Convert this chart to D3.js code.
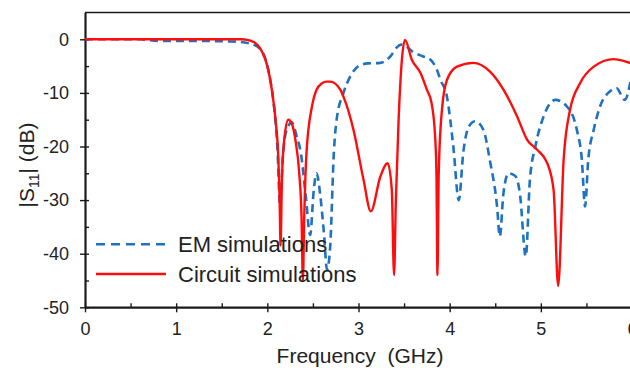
<!DOCTYPE html>
<html>
<head>
<meta charset="utf-8">
<script src="https://cdn.jsdelivr.net/npm/d3@7"></script>
<style>
  html, body { margin: 0; padding: 0; background: #fff; }
  svg { display: block; font-family: "Liberation Sans", Arial, sans-serif; }
</style>
</head>
<body>
<svg id="chart" width="630" height="372"></svg>
<script>
// ---- data ----
const xTicks = [0, 1, 2, 3, 4, 5, 6];
const xMinorTicks = [0.5, 1.5, 2.5, 3.5, 4.5, 5.5];
const yTicks = [0, -10, -20, -30, -40, -50];
const yMinorTicks = [-5, -15, -25, -35, -45];
const seriesNames = ["EM simulations", "Circuit simulations"];

const emFreq = [0, 0.6, 0.8, 1.2, 1.6, 1.75, 1.85, 1.92, 1.97, 2.02, 2.07, 2.11, 2.14, 2.17, 2.21, 2.27, 2.32, 2.37, 2.42, 2.47, 2.51, 2.54, 2.58, 2.62, 2.655, 2.69, 2.73, 2.76, 2.835, 2.91, 3.0, 3.1, 3.24, 3.35, 3.42, 3.47, 3.52, 3.6, 3.71, 3.79, 3.86, 3.9, 3.97, 4.04, 4.10, 4.15, 4.21, 4.28, 4.37, 4.44, 4.52, 4.55, 4.59, 4.645, 4.72, 4.77, 4.835, 4.88, 4.94, 5.03, 5.16, 5.285, 5.395, 5.45, 5.485, 5.52, 5.58, 5.65, 5.76, 5.83, 5.92, 6.0];
const emDb = [0, 0, -0.3, -0.3, -0.4, -0.6, -1.0, -1.8, -3.2, -6.5, -12, -20, -31, -22, -17, -15.5, -18, -21.5, -29, -36.5, -28, -25, -29, -36, -43, -38.5, -21, -15, -10, -6.9, -5, -4.5, -4.4, -3.2, -1.5, -1.0, -1.3, -2.4, -3.2, -3.8, -5.7, -7.6, -10.7, -20, -30, -21, -16.3, -15.3, -16.9, -22.5, -31.2, -36.8, -28.7, -25, -25.5, -28.7, -40.5, -26.2, -20, -14.4, -11.3, -12.5, -16.9, -22.5, -31.2, -22.5, -16.9, -12.5, -9.7, -9.1, -11.3, -6.3];

const circuitFreq = [0, 0.5, 1.0, 1.5, 1.72, 1.78, 1.85, 1.9, 1.95, 2.0, 2.05, 2.09, 2.12, 2.135, 2.145, 2.16, 2.19, 2.23, 2.27, 2.31, 2.35, 2.375, 2.39, 2.405, 2.43, 2.49, 2.54, 2.6, 2.65, 2.69, 2.8, 2.835, 2.945, 3.055, 3.135, 3.24, 3.32, 3.365, 3.39, 3.41, 3.44, 3.475, 3.51, 3.585, 3.68, 3.75, 3.8, 3.84, 3.855, 3.866, 3.88, 3.915, 3.97, 4.08, 4.26, 4.44, 4.59, 4.74, 4.85, 4.96, 5.07, 5.14, 5.19, 5.25, 5.32, 5.43, 5.58, 5.8, 5.98, 6.0];
const circuitDb = [0, 0, 0, 0, 0, -0.1, -0.5, -1.2, -2.6, -5, -9.5, -15, -22, -30, -38.5, -26, -18, -15, -15.8, -19, -25, -33, -45, -33, -21, -12.5, -9.4, -8.2, -7.9, -7.9, -9.4, -10.7, -16.9, -26.2, -32.1, -25.6, -23.1, -28, -44, -30, -15, -4, -0.1, -3.8, -6.3, -9.4, -11.8, -18, -25, -44, -25, -13.2, -7.6, -5.1, -4.4, -6.0, -9.4, -14.4, -18.75, -20.6, -23.1, -28.1, -46, -22.5, -13.2, -8.2, -5.1, -3.7, -4.4, -4.5];

// ---- layout ----
const svg = d3.select("#chart");
const W = 630, H = 372;
const plotLeft = 85, plotRight = 632, plotTop = 12.5, plotBottom = 307.3;

const x = d3.scaleLinear().domain([0, 6]).range([plotLeft, plotRight]);
const y = d3.scaleLinear().domain([-50, 5]).range([plotBottom, plotTop]);

svg.append("rect").attr("width", W).attr("height", H).attr("fill", "#fff");

svg.append("defs").append("clipPath").attr("id", "plot-clip")
  .append("rect").attr("x", plotLeft).attr("y", plotTop)
  .attr("width", plotRight - plotLeft).attr("height", plotBottom - plotTop);

const axisColor = "#1a1a1a";
const fontSize = 18;
const fmt = d => String(d);

// frame top line
svg.append("line").attr("x1", plotLeft).attr("x2", plotRight).attr("y1", plotTop).attr("y2", plotTop)
  .attr("stroke", axisColor).attr("stroke-width", 1.5);

// x axis: outer ticks + labels
const gx = svg.append("g").attr("transform", `translate(0,${plotBottom})`)
  .call(d3.axisBottom(x).tickValues(xTicks).tickFormat(fmt).tickSize(5).tickPadding(10));
svg.append("g").attr("transform", `translate(0,${plotBottom})`)
  .call(d3.axisBottom(x).tickValues(xTicks).tickFormat("").tickSize(-4).tickSizeOuter(0));
svg.append("g").attr("transform", `translate(0,${plotBottom})`)
  .call(d3.axisBottom(x).tickValues(xMinorTicks).tickFormat("").tickSize(-4).tickSizeOuter(0));

// y axis
const gy = svg.append("g").attr("transform", `translate(${plotLeft},0)`)
  .call(d3.axisLeft(y).tickValues(yTicks).tickFormat(fmt).tickSize(5).tickPadding(11).tickSizeOuter(0));
svg.append("g").attr("transform", `translate(${plotLeft},0)`)
  .call(d3.axisLeft(y).tickValues(yTicks).tickFormat("").tickSize(-4).tickSizeOuter(0));
svg.append("g").attr("transform", `translate(${plotLeft},0)`)
  .call(d3.axisLeft(y).tickValues(yMinorTicks).tickFormat("").tickSize(-4).tickSizeOuter(0));

svg.selectAll(".domain").attr("stroke", axisColor).attr("stroke-width", 1.5);
svg.selectAll(".tick line").attr("stroke", axisColor).attr("stroke-width", 1.4);
svg.selectAll(".tick text").attr("fill", "#222").style("font-size", fontSize + "px")
  .style("font-family", "'Liberation Sans', Arial, sans-serif");
gx.selectAll(".domain").remove();
svg.append("line").attr("x1", plotLeft).attr("x2", plotRight).attr("y1", plotBottom).attr("y2", plotBottom)
  .attr("stroke", axisColor).attr("stroke-width", 1.5);

// axis titles
svg.append("text").attr("x", 360).attr("y", 363).attr("text-anchor", "middle")
  .attr("fill", "#222").style("font-size", "21px").style("white-space", "pre")
  .text("Frequency  (GHz)");

const yt = svg.append("text").attr("transform", "translate(34,165) rotate(-90)")
  .attr("text-anchor", "middle").attr("fill", "#222").style("font-size", "21px");
yt.append("tspan").text("|S");
yt.append("tspan").attr("dy", 5).style("font-size", "14px").text("11");
yt.append("tspan").attr("dy", -5).text("| (dB)");

// series
const blue = "#1e72c0", red = "#ff0d0d";
const line = d3.line().x(d => x(d[0])).y(d => y(d[1])).curve(d3.curveMonotoneX);
const emData = emFreq.map((f, i) => [f, emDb[i]]);
const circuitData = circuitFreq.map((f, i) => [f, circuitDb[i]]);

const plot = svg.append("g").attr("clip-path", "url(#plot-clip)");
plot.append("path").datum(emData).attr("d", line).attr("fill", "none")
  .attr("stroke", blue).attr("stroke-width", 2.6).attr("stroke-dasharray", "8,5");
plot.append("path").datum(circuitData).attr("d", line).attr("fill", "none")
  .attr("stroke", red).attr("stroke-width", 2.4);

// legend
const legend = svg.append("g");
const legendItems = [
  { name: seriesNames[0], color: blue, dash: "9,6", ly: 244.3, tb: 251.5 },
  { name: seriesNames[1], color: red, dash: null, ly: 274, tb: 282 }
];
legendItems.forEach(it => {
  legend.append("line").attr("x1", 96).attr("x2", 166).attr("y1", it.ly).attr("y2", it.ly)
    .attr("stroke", it.color).attr("stroke-width", 2.6)
    .attr("stroke-dasharray", it.dash);
  legend.append("text").attr("x", 178).attr("y", it.tb).attr("fill", "#222")
    .style("font-size", "22px").text(it.name);
});
</script>
</body>
</html>
